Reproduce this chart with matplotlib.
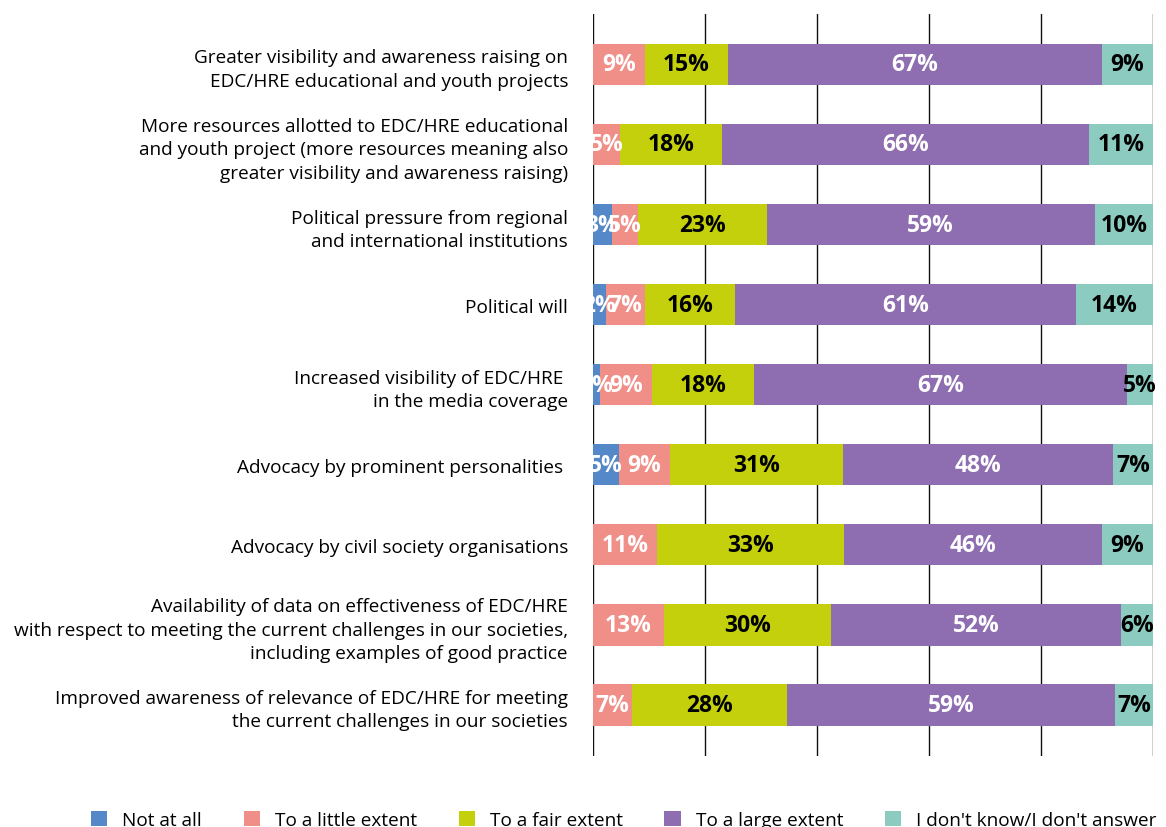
import numpy as np
import matplotlib
matplotlib.use("Agg")
import matplotlib.pyplot as plt

plt.rcParams['font.family'] = ['Open Sans', 'DejaVu Sans']

categories = [
    "Greater visibility and awareness raising on\nEDC/HRE educational and youth projects",
    "More resources allotted to EDC/HRE educational\nand youth project (more resources meaning also\ngreater visibility and awareness raising)",
    "Political pressure from regional\nand international institutions",
    "Political will",
    "Increased visibility of EDC/HRE \nin the media coverage",
    "Advocacy by prominent personalities ",
    "Advocacy by civil society organisations",
    "Availability of data on effectiveness of EDC/HRE\nwith respect to meeting the current challenges in our societies,\nincluding examples of good practice",
    "Improved awareness of relevance of EDC/HRE for meeting\nthe current challenges in our societies",
]

series_names = ["Not at all", "To a little extent", "To a fair extent",
                "To a large extent", "I don't know/I don't answer"]

not_at_all = [0.0, 0.0, 3.4, 2.3, 1.2, 4.6, 0.0, 0.0, 0.0]
little     = [9.3, 4.8, 4.6, 7.0, 9.3, 9.2, 11.4, 12.7, 7.0]
fair       = [14.8, 18.2, 23.0, 16.0, 18.2, 30.9, 33.4, 29.8, 27.6]
large      = [66.8, 65.6, 58.6, 60.9, 66.6, 48.2, 46.1, 51.8, 58.6]
dont_know  = [9.1, 11.4, 10.4, 13.8, 4.7, 7.1, 9.1, 5.7, 6.8]

colors = ["#5488C8", "#F08E88", "#C4D00C", "#8E6EB0", "#8CCCC0"]
label_colors = ["white", "white", "black", "white", "black"]


def main():
    data = np.array([not_at_all, little, fair, large, dont_know])
    y = np.arange(len(categories))

    fig = plt.figure(figsize=(11.66, 8.28), dpi=100)
    ax = fig.add_axes([593 / 1166, 1 - 757 / 828, 560 / 1166, 742 / 828])

    left = np.zeros(len(categories))
    for vals, name, col, tcol in zip(data, series_names, colors, label_colors):
        bars = ax.barh(y, vals, left=left, height=0.52, color=col,
                       label=name, zorder=2)
        for b, v in zip(bars, vals):
            if v <= 0:
                continue
            ax.text(b.get_x() + b.get_width() / 2, b.get_y() + b.get_height() / 2,
                    f"{round(v)}%", ha="center", va="center", color=tcol,
                    fontsize=16.5, fontweight="bold", zorder=3)
        left += vals

    ax.set_xlim(0, 100)
    ax.set_ylim(len(categories) - 1 + 0.64, -0.63)
    ax.set_xticks(np.arange(0, 101, 20))
    ax.xaxis.grid(True, color="#111111", linewidth=1.0, zorder=0)
    ax.set_axisbelow(True)
    ax.tick_params(axis="x", length=0, labelbottom=False)
    ax.set_yticks(y)
    ax.set_yticklabels(categories, fontsize=13.7, linespacing=1.4)
    ax.tick_params(axis="y", length=0, pad=18)
    for s in ax.spines.values():
        s.set_visible(False)

    fig.legend(loc="center", bbox_to_anchor=(0.535, 0.008), ncol=5,
               frameon=False, fontsize=13.7, handlelength=0.85,
               handleheight=0.85, handletextpad=0.8, columnspacing=2.18)

    fig.savefig("out.png", dpi=100)


if __name__ == "__main__":
    main()
